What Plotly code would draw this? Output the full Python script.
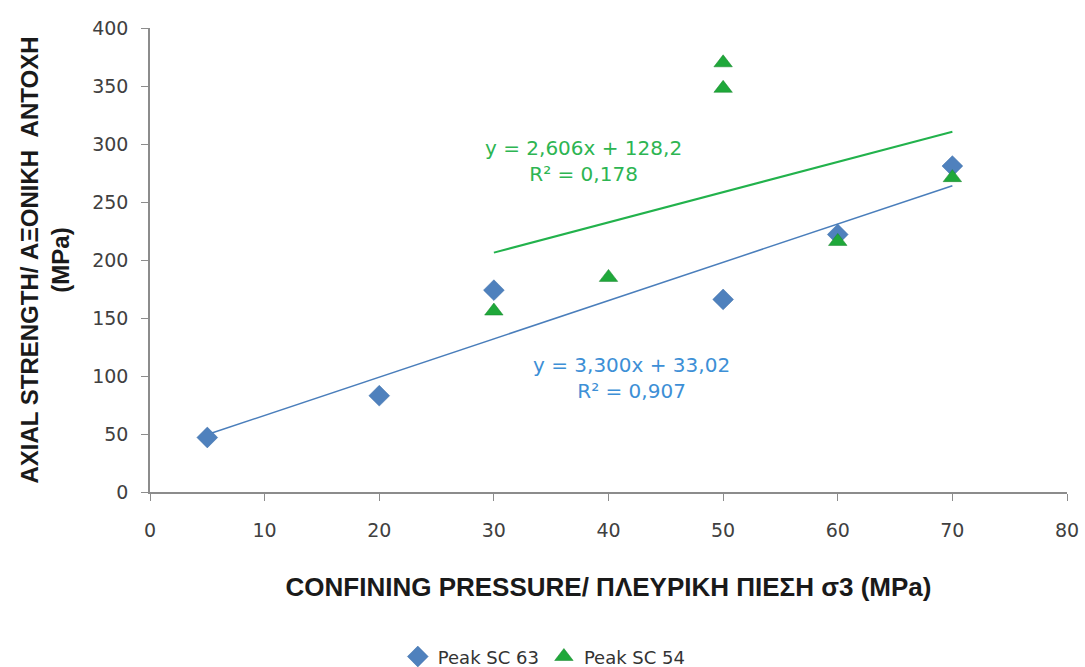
import plotly.graph_objects as go

# Confining pressure σ3 (MPa) and peak axial strength (MPa)
sc63_x = [5, 20, 30, 50, 60, 70]
sc63_y = [47, 83, 174, 166, 222, 281]
sc54_x = [30, 40, 50, 50, 60, 70]
sc54_y = [156, 185, 348, 370, 216, 271]

# Linear trendlines (slope, intercept, R²) and x-extent of each
sc63_fit = (3.300, 33.02, 0.907)
sc54_fit = (2.606, 128.2, 0.178)
sc63_fit_range = [5, 70]
sc54_fit_range = [30, 70]

x_ticks = [0, 10, 20, 30, 40, 50, 60, 70, 80]
y_ticks = [0, 50, 100, 150, 200, 250, 300, 350, 400]

BLUE = "#4f81bd"
BLUE_LINE = "#4a7ebb"
BLUE_TXT = "#3d8fd6"
GREEN = "#1fa83a"
GREEN_LINE = "#22b24c"
GREEN_TXT = "#2db552"


def fit_line(fit, xr):
    m, b, _ = fit
    return xr, [m * x + b for x in xr]


def fmt(v, nd):
    return f"{v:.{nd}f}".replace(".", ",")


fig = go.Figure()

lx, ly = fit_line(sc63_fit, sc63_fit_range)
fig.add_trace(go.Scatter(x=lx, y=ly, mode="lines", showlegend=False,
                         line=dict(color=BLUE_LINE, width=1.5), hoverinfo="skip"))
lx, ly = fit_line(sc54_fit, sc54_fit_range)
fig.add_trace(go.Scatter(x=lx, y=ly, mode="lines", showlegend=False,
                         line=dict(color=GREEN_LINE, width=2), hoverinfo="skip"))

fig.add_trace(go.Scatter(x=sc63_x, y=sc63_y, mode="markers", name="Peak SC 63",
                         marker=dict(symbol="diamond", size=16, color=BLUE,
                                     line=dict(color="#3d6fa8", width=0.5))))
fig.add_trace(go.Scatter(x=sc54_x, y=sc54_y, mode="markers", name="Peak SC 54",
                         marker=dict(symbol="triangle-up", size=16, color=GREEN,
                                     line=dict(color="#14822b", width=0.5))))

ann_font = dict(family="DejaVu Sans, sans-serif", size=20)
fig.add_annotation(x=37.8, y=285, xref="x", yref="y", showarrow=False,
                   text=f"y = {fmt(sc54_fit[0], 3)}x + {fmt(sc54_fit[1], 1)}<br>R² = {fmt(sc54_fit[2], 3)}",
                   font=dict(color=GREEN_TXT, **ann_font), align="center")
fig.add_annotation(x=42.0, y=98, xref="x", yref="y", showarrow=False,
                   text=f"y = {fmt(sc63_fit[0], 3)}x + {fmt(sc63_fit[1], 2)}<br>R² = {fmt(sc63_fit[2], 3)}",
                   font=dict(color=BLUE_TXT, **ann_font), align="center")

tick_font = dict(family="DejaVu Sans, sans-serif", size=19, color="#404040")

fig.update_xaxes(range=[0, 80], tickvals=x_ticks, showgrid=False, zeroline=False,
                 showline=True, linecolor="#8c8c8c", linewidth=1.5,
                 ticks="outside", ticklen=7, tickcolor="#8c8c8c", tickfont=tick_font,
                 ticklabelstandoff=13,
                 title=dict(text="<b>CONFINING PRESSURE/ ΠΛΕΥΡΙΚΗ ΠΙΕΣΗ σ3 (MPa)</b>",
                            font=dict(family="Liberation Sans, Arial, sans-serif", size=26,
                                      color="#1a1a1a"), standoff=38))
fig.update_yaxes(range=[0, 400], tickvals=y_ticks, showgrid=False, zeroline=False,
                 showline=True, linecolor="#8c8c8c", linewidth=1.5,
                 ticks="outside", ticklen=7, tickcolor="#8c8c8c", tickfont=tick_font,
                 ticklabelstandoff=9, domain=[175 / 639, 1],
                 title=dict(text="<b>AXIAL STRENGTH/ ΑΞΟΝΙΚΗ  ΑΝΤΟΧΗ<br>(MPa)</b>",
                            font=dict(family="Liberation Sans, Arial, sans-serif", size=24,
                                      color="#1a1a1a"), standoff=16))

fig.update_layout(
    width=1085, height=667,
    margin=dict(l=150, r=18, t=28, b=0, autoexpand=False),
    paper_bgcolor="white", plot_bgcolor="white",
    legend=dict(orientation="h", x=0.43, xanchor="center", y=-0.013, yanchor="bottom",
                font=dict(family="DejaVu Sans, sans-serif", size=18, color="#333333"),
                itemwidth=30, tracegroupgap=0),
)

fig.write_html("out.html")
